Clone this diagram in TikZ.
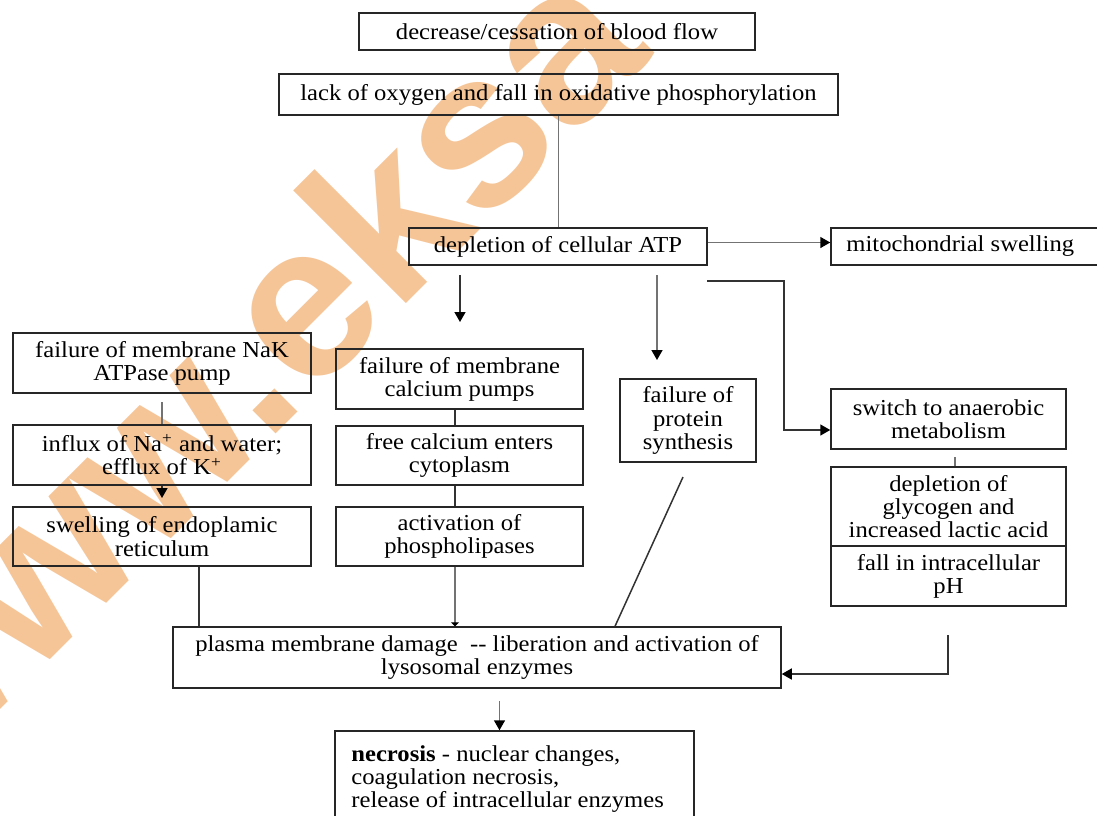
\documentclass[tikz,border=0pt]{standalone}
\usepackage{fontspec}
\setmainfont{Liberation Serif}[FakeStretch=1.08]
\newfontfamily\wmfont{Liberation Sans}
\usetikzlibrary{arrows.meta}
\definecolor{wmorange}{RGB}{245,197,152}
\definecolor{lnk}{RGB}{115,115,115}
\tikzset{
  boxst/.style={draw=black!85, line width=0.75pt, rectangle, inner sep=0pt, align=center,
    font=\fontsize{11.4}{11.6}\selectfont},
  txtst/.style={inner sep=0pt, align=left, font=\fontsize{11.4}{11.6}\selectfont},
  conn/.style={draw=lnk, line width=0.75pt},
  darkconn/.style={draw=black!80, line width=0.75pt},
  tipst/.style={-{Triangle[length=5pt,width=5.5pt,color=black]}},
  wmst/.style={inner sep=0pt, text=wmorange, font=\wmfont\bfseries\fontsize{110}{110}\selectfont},
}
\newcommand\mkbox[6]{\node[boxst, minimum width={(#4-#2)*0.5pt}, minimum height={(#5-#3)*0.5pt}] (#1) at ({(#2+#4)/2},{(#3+#5)/2}) {#6};}
\begin{document}
\begin{tikzpicture}[x=0.5pt,y=-0.5pt]
\useasboundingbox (0,0) rectangle (1097,815);
\clip (0,0) rectangle (1097,815);
% watermark
\node[wmst, rotate=45, anchor=base west] (wm) at (-92,802) {www.eksa};
% boxes
\mkbox{flow}{359}{13}{755}{50}{decrease/cessation of blood flow}
\mkbox{oxy}{279}{74}{838}{115}{lack of oxygen and fall in oxidative phosphorylation}
\mkbox{atp}{409}{228}{707}{265}{depletion of cellular ATP}
\mkbox{mito}{831}{228}{1110}{265}{}
\node[txtst, anchor=west] (mitotxt) at (846,246.5) {mitochondrial swelling};
\mkbox{nak}{13}{333}{311}{393}{failure of membrane NaK\\ATPase pump}
\mkbox{influx}{13}{425}{311}{485}{influx of Na\textsuperscript{+} and water;\\efflux of K\textsuperscript{+}}
\mkbox{swell}{13}{507}{311}{566}{swelling of endoplamic\\reticulum}
\mkbox{capump}{336}{349}{583}{409}{failure of membrane\\calcium pumps}
\mkbox{freeca}{336}{426}{583}{485}{free calcium enters\\cytoplasm}
\mkbox{phos}{336}{507}{583}{566}{activation of\\phospholipases}
\mkbox{prot}{620}{379}{756}{462}{failure of\\protein\\synthesis}
\mkbox{anaer}{831}{389}{1066}{449}{switch to anaerobic\\metabolism}
\mkbox{glyco}{831}{467}{1066}{546}{depletion of\\glycogen and\\increased lactic acid}
\mkbox{ph}{831}{546}{1066}{606}{fall in intracellular\\pH}
\mkbox{plasma}{173}{627}{781}{688}{plasma membrane damage\ \ -{}- liberation and activation of\\lysosomal enzymes}
\mkbox{necro}{335}{731}{694}{850}{}
\node[txtst, anchor=north west] (necrotxt) at (351,745) {\textbf{necrosis} - nuclear changes,\\coagulation necrosis,\\release of intracellular enzymes};
% coordinates for free ends
\coordinate (a1s) at (460,275); \coordinate (a1e) at (460,322);
\coordinate (a2s) at (657,275); \coordinate (a2e) at (657,360);
\coordinate (b1) at (707,281); \coordinate (b2) at (784,281); \coordinate (b3) at (784,430);
\coordinate (n1) at (162,402); \coordinate (n2) at (162,498);
\coordinate (sw) at (199,0);
\coordinate (cx) at (455,0);
\coordinate (p1) at (683,477); \coordinate (p2) at (615,0);
\coordinate (g1) at (955,457);
\coordinate (h1) at (948,635); \coordinate (h2) at (948,674);
\coordinate (k1) at (499.5,701);
% connectors
\draw[conn] (oxy.south) -- (oxy.south |- atp.north);
\draw[conn, tipst] ([yshift=2pt]atp.east) -- ([yshift=2pt]mito.west);
\draw[darkconn, tipst] (a1s) -- (a1e);
\draw[conn, tipst] (a2s) -- (a2e);
\draw[darkconn, tipst] (b1) -- (b2) -- (b3) -- (anaer.west |- b3);
\draw[conn] (n1) -- (influx.north -| n1);
\draw[darkconn, tipst] (influx.south -| n2) -- (n2);
\draw[darkconn] (swell.south -| sw) -- (plasma.north -| sw);
\draw[darkconn] (capump.south -| cx) -- (freeca.north -| cx);
\draw[darkconn] (freeca.south -| cx) -- (phos.north -| cx);
\draw[conn, -{Triangle[length=2pt,width=4pt,color=black]}] (phos.south -| cx) -- (plasma.north -| cx);
\draw[darkconn] (p1) -- (plasma.north -| p2);
\draw[conn] (g1) -- (glyco.north -| g1);
\draw[darkconn, tipst] (h1) -- (h2) -- (plasma.east |- h2);
\draw[conn, tipst] (k1) -- (necro.north -| k1);
\end{tikzpicture}
\end{document}
